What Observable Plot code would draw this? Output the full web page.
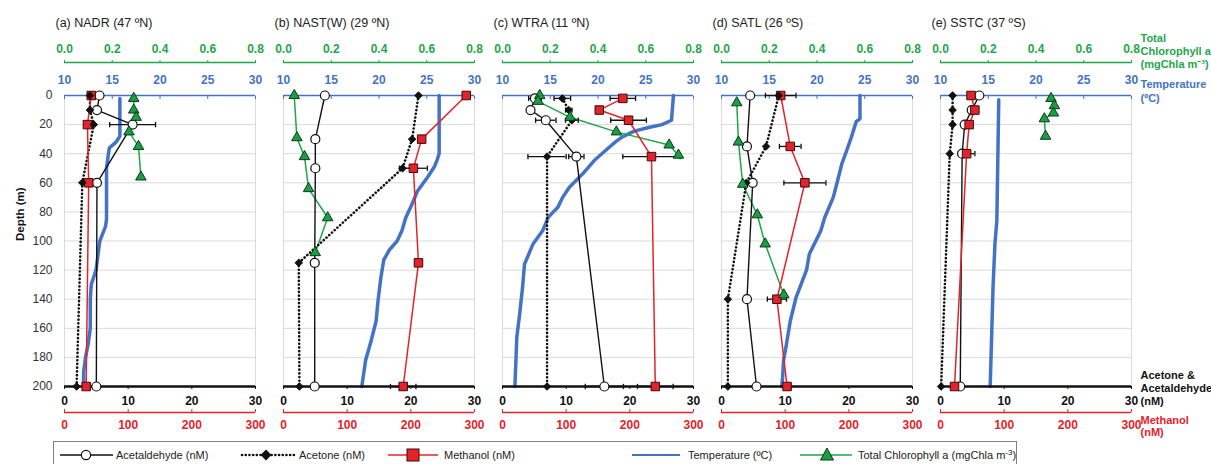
<!DOCTYPE html>
<html><head><meta charset="utf-8">
<script src="https://cdn.jsdelivr.net/npm/d3@7"></script>
<script src="https://cdn.jsdelivr.net/npm/@observablehq/plot@0.6"></script>
<style>
body{margin:0;background:#fff;font-family:"Liberation Sans",Arial,sans-serif;}
#wrap{position:relative;width:1211px;height:464px;overflow:hidden;background:#fff;}
#wrap svg{display:block;}
</style></head><body><div id="wrap"></div>
<script>
// ---------------- data ----------------
const stations = ["NADR", "NAST(W)", "WTRA", "SATL", "SSTC"];
const titles = ["(a) NADR (47 ºN)", "(b) NAST(W) (29 ºN)", "(c) WTRA (11 ºN)", "(d) SATL (26 ºS)", "(e) SSTC (37 ºS)"];

// [depth (m), value (nM), ± error]
const acetaldehyde = [
  [[0, 5.5], [10, 5.1], [20, 10.7, 3.6], [60, 5.1], [200, 5.0]],
  [[0, 6.5], [30, 5.0, 0.6], [50, 5.0, 0.6], [115, 4.9, 0.6], [200, 4.9]],
  [[2, 5.1, 1.0], [10, 4.4], [17, 6.8, 1.6], [42, 11.6, 1.2], [200, 16.0, 3.0]],
  [[0, 4.5], [35, 4.0], [60, 4.9, 0.5], [140, 4.0], [200, 5.5]],
  [[0, 6.1], [10, 4.9], [20, 3.8], [40, 3.4], [200, 3.1]]
];
const acetone = [
  [[0, 4.0], [10, 4.0], [20, 4.6], [60, 2.8], [200, 1.9]],
  [[0, 21.2], [30, 20.2], [50, 18.7], [115, 2.4], [200, 2.5]],
  [[2, 9.4, 1.3], [10, 10.4, 0.5], [17, 10.9, 1.0], [42, 7.0, 3.0], [200, 7.0]],
  [[0, 9.0], [35, 7.0], [60, 3.9], [140, 1.0], [200, 1.0]],
  [[0, 1.9], [10, 1.9], [20, 1.9], [40, 1.45], [200, 0.1]]
];
const methanol = [
  [[0, 42], [20, 36], [60, 38], [200, 34]],
  [[0, 287], [30, 217], [50, 204, 22], [115, 212, 5], [200, 188, 20]],
  [[2, 189, 20], [10, 152], [17, 198, 28], [42, 234, 45], [200, 240, 28]],
  [[0, 93, 24], [35, 108, 17], [60, 131, 33], [140, 87, 15], [200, 103]],
  [[0, 48], [10, 54], [20, 45], [40, 41, 13], [200, 22]]
];
// [depth (m), chlorophyll (mgChla m-3)]
const chlorophyll = [
  [[2, 0.29], [10, 0.29], [15, 0.30], [25, 0.27], [35, 0.31], [56, 0.32]],
  [[0, 0.045], [29, 0.056], [42, 0.088], [64, 0.105], [84, 0.185], [108, 0.133]],
  [[0, 0.156], [4, 0.149], [15, 0.283], [25, 0.477], [34, 0.698], [41, 0.737]],
  [[5, 0.064], [32, 0.071], [61, 0.089], [82, 0.15], [102, 0.183], [137, 0.261]],
  [[2, 0.463], [7, 0.477], [12, 0.473], [16, 0.435], [28, 0.44]]
];
// [depth (m), temperature (ºC)]
const temperature = [
  [[2, 15.8], [28, 15.8], [32, 15.4], [36, 14.7], [40, 14.6], [50, 14.4], [85, 14.4], [90, 14.3], [95, 14.0], [100, 13.7], [110, 13.5], [120, 13.3], [130, 12.8], [140, 12.7], [160, 12.7], [170, 12.5], [180, 12.2], [190, 12.0], [200, 12.0]],
  [[0, 26.3], [40, 26.3], [44, 26.1], [49, 25.8], [56, 25.1], [66, 24.0], [74, 23.5], [84, 22.8], [93, 22.4], [100, 21.9], [106, 21.1], [113, 20.5], [125, 20.2], [141, 19.9], [155, 19.7], [168, 19.2], [182, 18.6], [200, 18.2]],
  [[0, 27.9], [17, 27.7], [20, 26.7], [22, 25.3], [24.5, 23.8], [28.6, 22.5], [32, 21.8], [36.6, 21.0], [44.7, 19.6], [53.8, 18.4], [63, 17.0], [70, 16.3], [76.8, 15.8], [83.6, 14.8], [93, 14.2], [102, 13.2], [116, 12.3], [132, 12.1], [150, 11.8], [166, 11.5], [200, 11.3]],
  [[0, 24.5], [16, 24.5], [18, 24.1], [28.6, 23.6], [38, 23.1], [47, 22.6], [60, 22.1], [70, 21.7], [84, 20.8], [93, 20.4], [97, 20.1], [109, 19.2], [120, 18.9], [139, 17.8], [155, 17.2], [171, 16.8], [182, 16.5], [194, 16.4], [200, 16.3]],
  [[3, 16.1], [86, 15.9], [102, 15.7], [132, 15.5], [178, 15.3], [200, 15.2]]
];

// tick labels
const depthTicks = [0, 20, 40, 60, 80, 100, 120, 140, 160, 180, 200];
const concTicks = [0, 10, 20, 30];
const methanolTicks = [0, 100, 200, 300];
const tempTicks = [10, 15, 20, 25, 30];
const chlTicks = [0, 0.2, 0.4, 0.6, 0.8];

// ---------------- chart ----------------
const GREEN = "#1fa64a", BLUE = "#4472c4", RED = "#e3232b", INK = "#111", GRID = "#d9d9d9";
// every series shares the 0–30 nM position scale
const id = v => v, mx = v => v / 10, tx = t => (t - 10) * 1.5, cx = c => c * 37.5;

function rows(series, fn) {
  return series.flatMap((arr, i) => arr.map(([depth, v, e = 0]) =>
    ({station: stations[i], depth, v, e, x: fn(v), lo: fn(v - e), hi: fn(v + e)})));
}
const A = rows(acetaldehyde, id), C = rows(acetone, id), M = rows(methanol, mx);
const T = rows(temperature, tx), Ch = rows(chlorophyll, cx);
const E = [...A, ...C, ...M].filter(d => d.e > 0);
const caps = E.flatMap(d => [{...d, c: d.lo}, {...d, c: d.hi}]);
const capSymbol = {draw(ctx, size) { const h = Math.sqrt(size) / 2; ctx.moveTo(0, -h); ctx.lineTo(0, h); }};

const fs = {fontWeight: "bold", fontSize: 12};
const chart = Plot.plot({
  width: 1211, height: 440,
  marginTop: 95, marginBottom: 54, marginLeft: 62, marginRight: 78,
  style: {fontFamily: "'Liberation Sans', Arial, sans-serif", fontSize: "12px", background: "#fff", color: INK},
  fx: {domain: stations, paddingInner: 0.13, paddingOuter: 0, axis: null, label: null},
  x: {domain: [0, 30], axis: null, label: null},
  y: {domain: [0, 200], reverse: true, axis: null, label: null},
  marks: [
    Plot.gridY(depthTicks, {stroke: GRID, strokeOpacity: 1}),
    Plot.frame({stroke: GRID}),
    Plot.line(T, {fx: "station", x: "x", y: "depth", stroke: BLUE, strokeWidth: 3.5}),
    Plot.line(Ch, {fx: "station", x: "x", y: "depth", stroke: GREEN, strokeWidth: 1.5}),
    Plot.line(A, {fx: "station", x: "x", y: "depth", stroke: INK, strokeWidth: 1.4}),
    Plot.line(C, {fx: "station", x: "x", y: "depth", stroke: INK, strokeWidth: 2.6, strokeDasharray: "0.1 3.6", strokeLinecap: "round"}),
    Plot.line(M, {fx: "station", x: "x", y: "depth", stroke: RED, strokeWidth: 1.5}),
    // axis lines
    Plot.ruleY([0], {stroke: GREEN, strokeWidth: 1.6, dy: -33}),
    Plot.ruleY([0], {stroke: BLUE, strokeWidth: 1.6}),
    Plot.ruleY([200], {stroke: INK, strokeWidth: 2.4}),
    Plot.ruleY([200], {stroke: RED, strokeWidth: 1.6, dy: 26}),
    // axes
    Plot.axisX(chlTicks.map(cx), {anchor: "top", dy: -33, tickSize: 3, tickPadding: 6.5, color: GREEN, label: null, tickFormat: d => (d / 37.5).toFixed(1), ...fs}),
    Plot.axisX(tempTicks.map(tx), {anchor: "top", tickSize: -3, tickPadding: 15, color: BLUE, label: null, tickFormat: d => String(Math.round(d / 1.5 + 10)), ...fs}),
    Plot.axisX(concTicks, {anchor: "bottom", tickSize: 3, tickPadding: 7, color: INK, label: null, ...fs}),
    Plot.axisX(methanolTicks.map(mx), {anchor: "bottom", dy: 26, tickSize: -3, tickPadding: 11, color: RED, label: null, tickFormat: d => String(Math.round(d * 10)), ...fs}),
    Plot.axisY(depthTicks, {anchor: "left", tickSize: 0, tickPadding: 12, color: "#333", label: null, fontSize: 12}),
    // error bars
    Plot.ruleY(E, {fx: "station", y: "depth", x1: "lo", x2: "hi", stroke: INK, strokeWidth: 1.3}),
    Plot.dot(caps, {fx: "station", x: "c", y: "depth", symbol: capSymbol, r: 3, stroke: INK, strokeWidth: 1.3}),
    // markers
    Plot.dot(A, {fx: "station", x: "x", y: "depth", symbol: "circle", r: 4.5, fill: "#fff", stroke: INK, strokeWidth: 1.2}),
    Plot.dot(M, {fx: "station", x: "x", y: "depth", symbol: "square", r: 4.8, fill: RED, stroke: "#3d0a0a", strokeWidth: 1}),
    Plot.dot(C, {fx: "station", x: "x", y: "depth", symbol: "diamond2", r: 3.4, fill: INK, stroke: INK, strokeWidth: 1}),
    Plot.dot(Ch, {fx: "station", x: "x", y: "depth", symbol: "triangle", r: 3.9, fill: "#1a9e45", stroke: "#0a3a18", strokeWidth: 1}),
    // panel titles
    Plot.text(stations.map((s, i) => ({station: s, t: titles[i]})), {fx: "station", text: "t", frameAnchor: "top-left", dx: -9, dy: -73, textAnchor: "start", lineAnchor: "middle", fontSize: 12.5, fill: "#222"}),
    // depth label
    Plot.text([{station: stations[0]}], {fx: "station", text: () => "Depth (m)", frameAnchor: "left", dx: -44, rotate: -90, fontWeight: "bold", fontSize: 11.5, fill: INK}),
    // right-hand axis titles
    Plot.text([{station: stations[4]}], {fx: "station", text: () => "Total\nChlorophyll a\n(mgChla m⁻³)", frameAnchor: "top-right", dx: 9, dy: -44.5, textAnchor: "start", lineAnchor: "middle", lineHeight: 1.2, fill: GREEN, fontWeight: "bold", fontSize: 11}),
    Plot.text([{station: stations[4]}], {fx: "station", text: () => "Temperature\n(ºC)", frameAnchor: "top-right", dx: 9, dy: -5, textAnchor: "start", lineAnchor: "middle", lineHeight: 1.25, fill: BLUE, fontWeight: "bold", fontSize: 11}),
    Plot.text([{station: stations[4]}], {fx: "station", text: () => "Acetone &\nAcetaldehyde\n(nM)", frameAnchor: "bottom-right", dx: 9, dy: 1.5, textAnchor: "start", lineAnchor: "middle", lineHeight: 1.2, fill: INK, fontWeight: "bold", fontSize: 11}),
    Plot.text([{station: stations[4]}], {fx: "station", text: () => "Methanol\n(nM)", frameAnchor: "bottom-right", dx: 9, dy: 39.5, textAnchor: "start", lineAnchor: "middle", lineHeight: 1.15, fill: RED, fontWeight: "bold", fontSize: 11})
  ]
});
const wrap = document.getElementById("wrap");
wrap.appendChild(chart);

// ---------------- legend ----------------
const ly = 15;
const legend = `
<svg width="1211" height="24" style="position:absolute;left:0;top:440px" font-family="'Liberation Sans', Arial, sans-serif" font-size="11" fill="#222">
  <rect x="53.5" y="1.5" width="963" height="40" fill="#fff" stroke="#808080" stroke-width="1"/>
  <line x1="60" x2="113" y1="${ly}" y2="${ly}" stroke="${INK}" stroke-width="1.5"/>
  <circle cx="86" cy="${ly}" r="4.6" fill="#fff" stroke="${INK}" stroke-width="1.2"/>
  <text x="116" y="${ly}" dy="0.35em">Acetaldehyde (nM)</text>
  <line x1="242" x2="295" y1="${ly}" y2="${ly}" stroke="${INK}" stroke-width="2.6" stroke-dasharray="0.1 3.6" stroke-linecap="round"/>
  <path d="M266,${ly - 5.5}L271.5,${ly}L266,${ly + 5.5}L260.5,${ly}Z" fill="${INK}"/>
  <text x="299" y="${ly}" dy="0.35em">Acetone (nM)</text>
  <line x1="388" x2="438" y1="${ly}" y2="${ly}" stroke="${RED}" stroke-width="1.5"/>
  <rect x="407" y="${ly - 6}" width="12" height="12" fill="${RED}" stroke="#3d0a0a"/>
  <text x="444" y="${ly}" dy="0.35em">Methanol (nM)</text>
  <line x1="632" x2="680" y1="${ly}" y2="${ly}" stroke="${BLUE}" stroke-width="2"/>
  <text x="688" y="${ly}" dy="0.35em">Temperature (ºC)</text>
  <line x1="800" x2="852" y1="${ly}" y2="${ly}" stroke="${GREEN}" stroke-width="1.5"/>
  <path d="M827,${ly - 7}L833.5,${ly + 5}L820.5,${ly + 5}Z" fill="#1a9e45" stroke="#0a3a18"/>
  <text x="858" y="${ly}" dy="0.35em">Total Chlorophyll a (mgChla m<tspan dy="-4" font-size="8">-3</tspan><tspan dy="4">)</tspan></text>
</svg>`;
wrap.insertAdjacentHTML("beforeend", legend);
</script></body></html>
